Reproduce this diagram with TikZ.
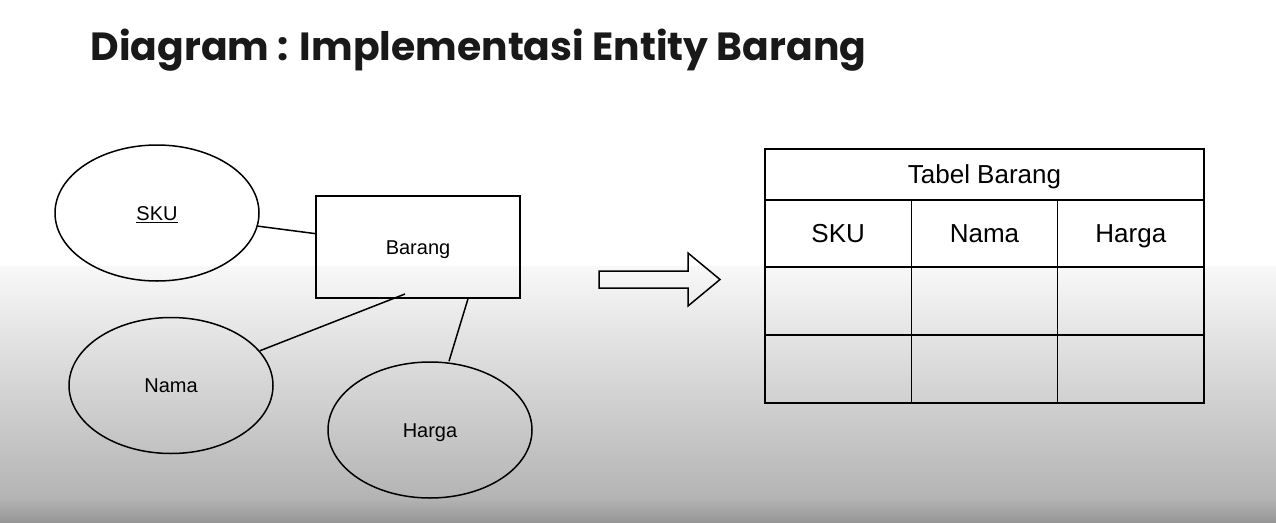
\documentclass[tikz,border=0pt]{standalone}
\usepackage{fontspec}
\setmainfont{Liberation Sans}
\newfontfamily\titlefont{Poppins}
\usetikzlibrary{shapes.geometric}
\definecolor{bgtop}{HTML}{F8F8F8}
\definecolor{bgmid}{HTML}{B4B4B4}
\definecolor{bgend}{HTML}{969696}

\begin{document}
\begin{tikzpicture}[x=1pt, y=-1pt, line width=1.5pt,
	attr/.style = {draw, ellipse, minimum width=204pt, minimum height=136pt, inner sep=0pt, text height=18.3pt, text depth=4pt, font=\fontsize{20}{24}\selectfont},
	entity/.style = {draw, rectangle, minimum width=204pt, minimum height=102pt, inner sep=0pt, text height=18.3pt, text depth=4pt, font=\fontsize{20}{24}\selectfont},
	cell/.style = {draw, rectangle, minimum width=146.3pt, inner sep=0pt, text height=23.8pt, text depth=5.2pt, font=\fontsize{26}{30}\selectfont}]
	% background
	\useasboundingbox (0,0) rectangle (1276,522);
	\fill[white] (0,0) rectangle (1276,522);
	\shade[top color=bgtop, bottom color=bgmid] (0,266) rectangle (1276,498);
	\shade[top color=bgmid, bottom color=bgend] (0,498) rectangle (1276,522);
	% title
	\node[anchor=base west, inner sep=0pt, font=\titlefont\bfseries\fontsize{39.3}{46}\selectfont, text=black!90] (title) at (90,60) {Diagram : Implementasi Entity Barang};
	% ER diagram
	\node[attr] (sku) at (157, 213){\underline{SKU}};
	\node[entity] (barang) at (418, 247){Barang};
	\node[attr] (nama) at (171, 385.5){Nama};
	\node[attr] (harga) at (430, 430){Harga};
	\coordinate (bn) at (405, 294);
	\draw[-] (sku) -- (barang);
	\draw[-] (nama) -- (bn);
	\draw[-] (barang.south -| 468,0) -- (harga.north -| 449,0);
	% arrow
	\draw (599,271) -- (688,271) -- (688,253) -- (720,279.5) -- (688,306) -- (688,288) -- (599,288) -- cycle;
	% table
	\node[cell, minimum width=439pt, minimum height=51pt] (tabel) at (984.5, 174.5){Tabel Barang};
	\foreach \name/\label [count=\i from 0] in {sku/SKU, nama/Nama, harga/Harga} {
		\node[cell, minimum height=67pt] (h-\name) at (838.2+146.3*\i, 233.5){\label};
		\node[cell, minimum height=68pt] (r1-\name) at (838.2+146.3*\i, 301){};
		\node[cell, minimum height=68pt] (r2-\name) at (838.2+146.3*\i, 369){};
	}
\end{tikzpicture}
\end{document}
